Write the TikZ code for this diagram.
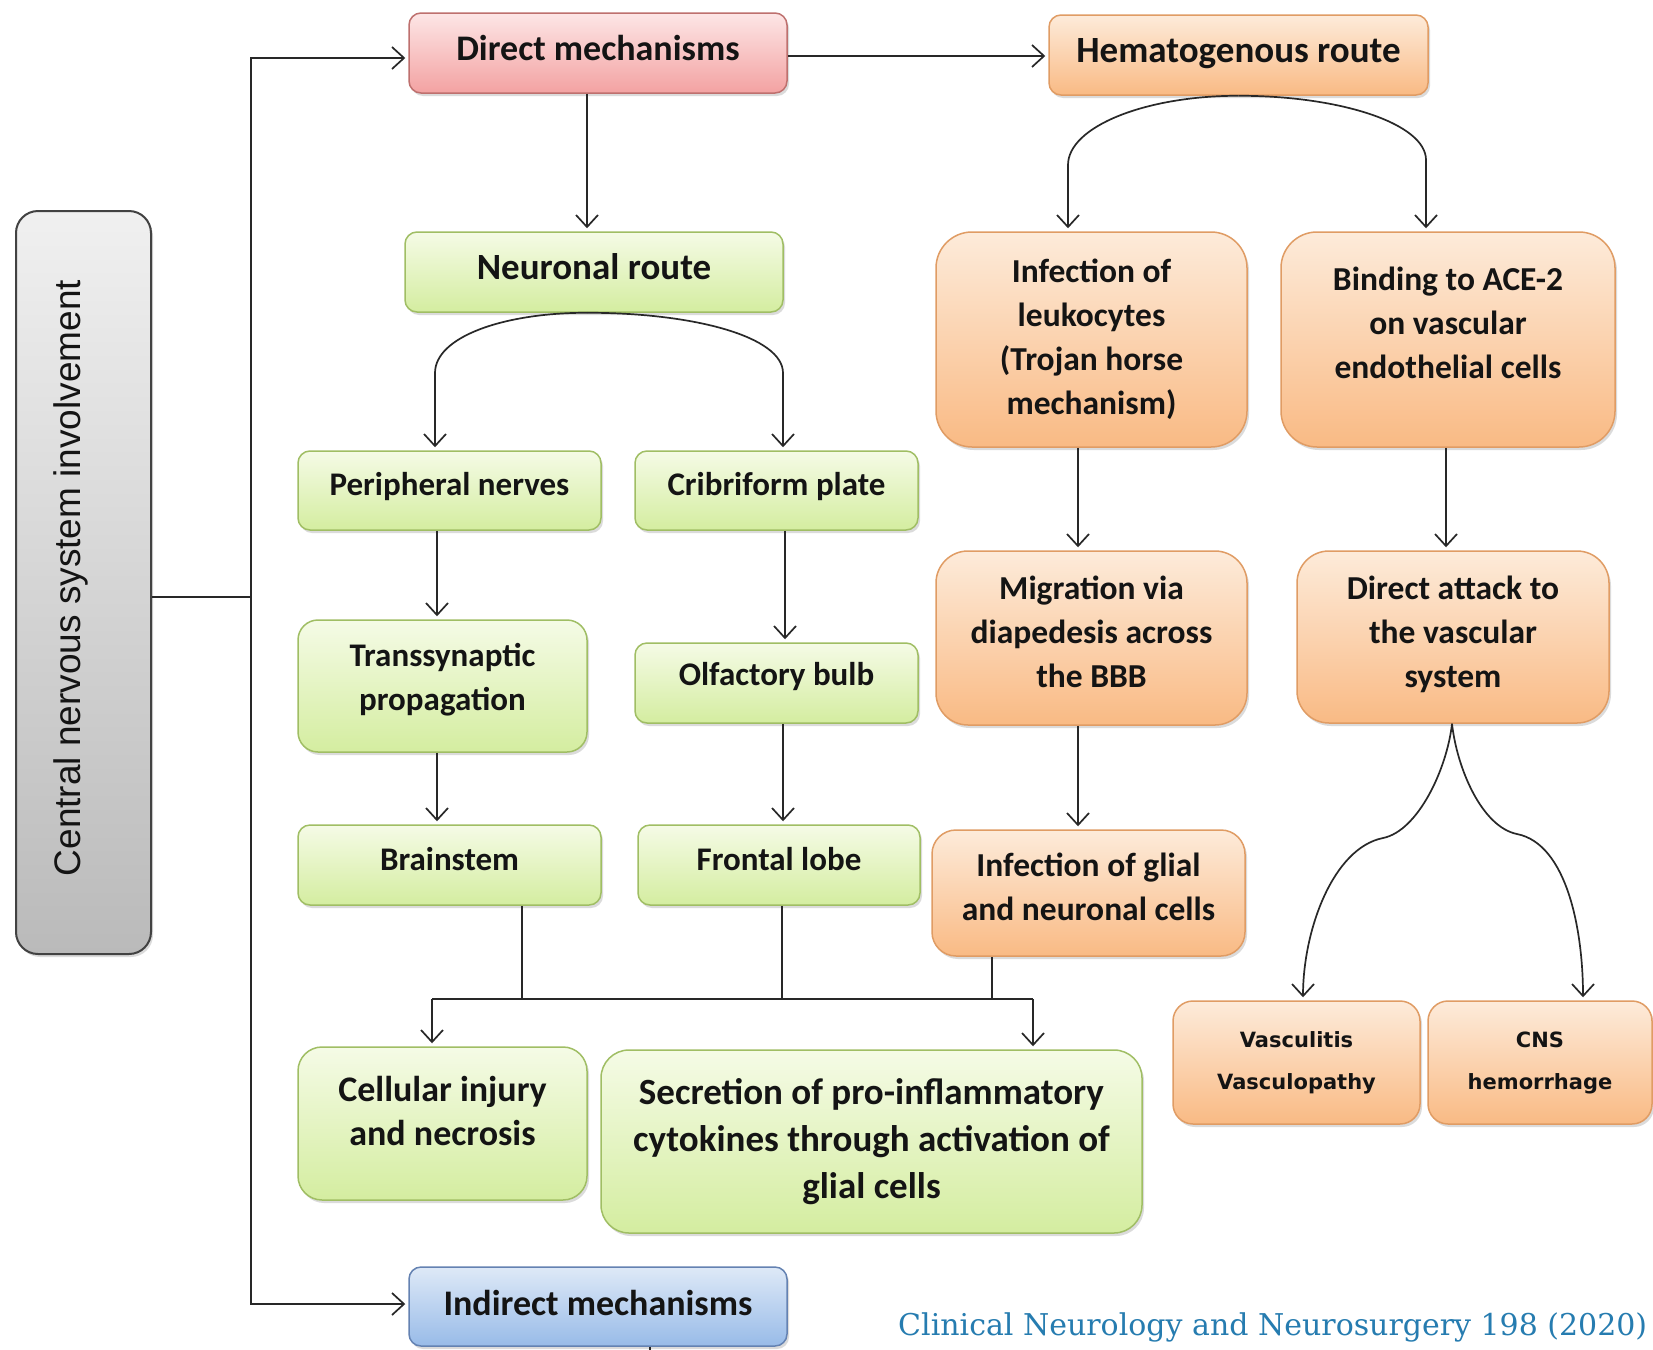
\documentclass[tikz,border=0pt]{standalone}
\usepackage{fontspec}
\setmainfont{Carlito}
\newfontfamily\cnsfont{Liberation Sans}
\newfontfamily\verdfont{DejaVu Sans}
\newfontfamily\citefont{DejaVu Serif}
\usetikzlibrary{arrows.meta,shadows}
\definecolor{txtC}{RGB}{20,20,20}
\definecolor{lineC}{RGB}{40,40,40}
\definecolor{pinkT}{RGB}{253,230,230}
\definecolor{pinkD}{RGB}{243,162,162}
\definecolor{pinkB}{RGB}{190,112,110}
\definecolor{grT}{RGB}{245,251,230}
\definecolor{grD}{RGB}{212,237,160}
\definecolor{grB}{RGB}{160,190,100}
\definecolor{orT}{RGB}{253,235,218}
\definecolor{orD}{RGB}{249,186,132}
\definecolor{orB}{RGB}{224,156,100}
\definecolor{blT}{RGB}{222,233,247}
\definecolor{blD}{RGB}{152,187,232}
\definecolor{blB}{RGB}{100,130,178}
\definecolor{gyT}{RGB}{240,240,240}
\definecolor{gyD}{RGB}{186,186,186}
\definecolor{gyB}{RGB}{66,66,66}
\definecolor{citeC}{RGB}{38,124,176}
\begin{document}
\begin{tikzpicture}[x=1pt,y=-1pt,
  box/.style={draw, line width=1.5pt, rounded corners=12pt, align=center,
    inner sep=0pt, text=txtC, font=\fontsize{33}{44}\selectfont\bfseries,
    drop shadow={shadow xshift=2pt,shadow yshift=-3pt,opacity=0.28}},
  pinkbox/.style={box, draw=pinkB, top color=pinkT, bottom color=pinkD},
  grbox/.style={box, draw=grB, top color=grT, bottom color=grD},
  orbox/.style={box, draw=orB, top color=orT, bottom color=orD},
  blbox/.style={box, draw=blB, top color=blT, bottom color=blD},
  gybox/.style={box, draw=gyB, line width=2pt, top color=gyT, bottom color=gyD},
  bigfont/.style={font=\fontsize{36}{44}\selectfont\bfseries},
  midfont/.style={font=\fontsize{33.5}{44}\selectfont\bfseries},
  smallfont/.style={font=\verdfont\fontsize{21}{42}\selectfont\bfseries},
  conn/.style={draw=lineC, line width=1.7pt},
  arr/.style={conn, -{Straight Barb[length=12pt,width=22pt,line width=1.7pt]}, shorten >=3pt}
]
\useasboundingbox[fill=white] (0,0) rectangle (1653,1349);

% boxes
\node[gybox, minimum width=135pt, minimum height=743pt, rounded corners=22pt] (cns) at (83.5,582.5) {};
\node[rotate=90, inner sep=0pt, font=\cnsfont\fontsize{37}{40}\selectfont, text=txtC] (cnst) at (71,578) {Central nervous system involvement};

\node[pinkbox, bigfont, minimum width=378pt, minimum height=80pt, text depth=10pt] (dm) at (598,53) {Direct mechanisms};
\node[orbox, font=\fontsize{37}{44}\selectfont\bfseries, minimum width=379pt, minimum height=80pt, text depth=9pt] (hr) at (1238.5,55) {Hematogenous route};
\node[grbox, font=\fontsize{37}{44}\selectfont\bfseries, minimum width=378pt, minimum height=80pt, text depth=10pt] (nr) at (594,272) {Neuronal route};
\node[grbox, minimum width=303pt, minimum height=79pt, text depth=13pt] (pn) at (449.5,490.5) {Peripheral nerves};
\node[grbox, minimum width=283pt, minimum height=79pt, text depth=13pt] (cp) at (776.5,490.5) {Cribriform plate};
\node[grbox, minimum width=289pt, minimum height=132pt, rounded corners=20pt, text depth=19pt] (tp) at (442.5,686) {Transsynaptic\\propagation};
\node[grbox, minimum width=283pt, minimum height=80pt, text depth=19pt] (ob) at (776.5,683) {Olfactory bulb};
\node[grbox, minimum width=303pt, minimum height=80pt, text depth=12pt] (bs) at (449.5,865) {Brainstem};
\node[grbox, minimum width=282pt, minimum height=80pt, text depth=12pt] (fl) at (779,865) {Frontal lobe};
\node[grbox, bigfont, minimum width=289pt, minimum height=153pt, rounded corners=24pt, text depth=26pt] (ci) at (442.5,1123.5) {Cellular injury\\and necrosis};
\node[grbox, minimum width=541pt, minimum height=183pt, rounded corners=28pt, font=\fontsize{37}{47}\selectfont\bfseries] (sec) at (871.5,1141.5) {Secretion of pro-inflammatory\\cytokines through activation of\\glial cells};
\node[blbox, bigfont, minimum width=378pt, minimum height=79pt, text depth=8pt] (im) at (598,1306.5) {Indirect mechanisms};

\node[orbox, midfont, minimum width=311pt, minimum height=215pt, rounded corners=36pt] (il) at (1091.5,339.5) {Infection of\\leukocytes\\(Trojan horse\\mechanism)};
\node[orbox, midfont, minimum width=334pt, minimum height=215pt, rounded corners=36pt, text depth=34pt] (ba) at (1448,339.5) {Binding to ACE-2\\on vascular\\endothelial cells};
\node[orbox, midfont, minimum width=311pt, minimum height=174pt, rounded corners=32pt, text depth=12pt] (mig) at (1091.5,638) {Migration via\\diapedesis across\\the BBB};
\node[orbox, midfont, minimum width=312pt, minimum height=172pt, rounded corners=32pt, text depth=11pt] (da) at (1453,637) {Direct attack to\\the vascular\\system};
\node[orbox, midfont, minimum width=313pt, minimum height=126pt, rounded corners=24pt, text depth=12pt] (gl) at (1088.5,893) {Infection of glial\\and neuronal cells};
\node[orbox, smallfont, minimum width=247pt, minimum height=123pt, rounded corners=20pt] (vas) at (1296.5,1062.5) {Vasculitis\\Vasculopathy};
\node[orbox, smallfont, minimum width=224pt, minimum height=123pt, rounded corners=20pt] (cnsh) at (1540,1062.5) {CNS\\hemorrhage};

\node[anchor=base west, inner sep=0pt, font=\citefont\fontsize{30}{36}\selectfont, text=citeC] (cite) at (898,1335) {Clinical Neurology and Neurosurgery 198 (2020)};

% left spine
\coordinate (spine) at (251,597);
\draw[conn] (cns.east |- spine) -- (spine);
\draw[arr] (spine) |- ([yshift=-5pt]dm.west);
\draw[arr] (spine) |- ([yshift=2.5pt]im.west);
\coordinate (imstub) at (650,1355);
\draw[conn] (imstub |- im.south) -- (imstub);

% top row
\draw[arr] ([yshift=-3pt]dm.east) -- ([yshift=-1pt]hr.west);
\draw[arr] ([xshift=-11pt]dm.south) -- ([xshift=-7pt]nr.north);

% neuronal split
\coordinate (nrs) at ([xshift=-7pt]nr.south);
\coordinate (nrL) at (435,373);
\coordinate (nrR) at (783,373);
\draw[arr] (nrs) .. controls +(-84,0) and +(0,-36) .. (nrL) -- (nrL |- pn.north);
\draw[arr] (nrs) .. controls +(108,0) and +(0,-36) .. (nrR) -- (nrR |- cp.north);

% neuronal chains
\draw[arr] ([xshift=-12.5pt]pn.south) -- ([xshift=-5.5pt]tp.north);
\draw[arr] ([xshift=8.5pt]cp.south) -- ([xshift=8.5pt]ob.north);
\draw[arr] ([xshift=-5.5pt]tp.south) -- ([xshift=-12.5pt]bs.north);
\draw[arr] ([xshift=6.5pt]ob.south) -- ([xshift=4pt]fl.north);

% hematogenous split
\coordinate (hrs) at (hr.south);
\coordinate (hrL) at (1068,165);
\coordinate (hrR) at (1426,160);
\draw[arr] (hrs) .. controls +(-94,0) and +(0,-38) .. (hrL) -- (hrL |- il.north);
\draw[arr] (hrs) .. controls +(103,0) and +(0,-36) .. (hrR) -- (hrR |- ba.north);

% hematogenous chains
\draw[arr] ([xshift=-13.5pt]il.south) -- ([xshift=-13.5pt]mig.north);
\draw[arr] ([xshift=-13.5pt]mig.south) -- ([xshift=-10.5pt]gl.north);
\draw[arr] ([xshift=-2pt]ba.south) -- ([xshift=-7pt]da.north);

% direct attack split
\coordinate (das) at ([xshift=-1pt]da.south);
\coordinate (daL) at (1383,838);
\coordinate (daR) at (1517,834);
\draw[arr] (das) .. controls +(-5,45) and +(35,-7) .. (daL)
  .. controls +(-50,10) and +(0,-70) .. ([xshift=6.5pt]vas.north);
\draw[arr] (das) .. controls +(5,45) and +(-35,-7) .. (daR)
  .. controls +(50,10) and +(0,-70) .. ([xshift=43pt]cnsh.north);

% bottom bus
\coordinate (busL) at (432,999);
\coordinate (busR) at (1033,999);
\coordinate (bsd) at ([xshift=72.5pt]bs.south);
\coordinate (fld) at ([xshift=3pt]fl.south);
\coordinate (gld) at ([xshift=-96.5pt]gl.south);
\draw[conn] (busL) -- (busR);
\draw[conn] (bsd) -- (bsd |- busL);
\draw[conn] (fld) -- (fld |- busL);
\draw[conn] (gld) -- (gld |- busL);
\draw[arr] (busL) -- (busL |- ci.north);
\draw[arr] (busR) -- (busR |- sec.north);
\end{tikzpicture}
\end{document}
